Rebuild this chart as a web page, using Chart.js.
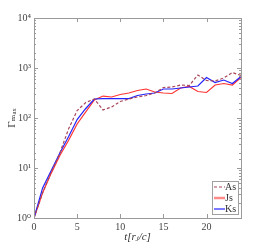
<!DOCTYPE html>
<html><head><meta charset="utf-8">
<script src="https://cdn.jsdelivr.net/npm/chart.js@4.4.1/dist/chart.umd.min.js"></script>
<style>html,body{margin:0;padding:0;background:#fff;}#wrap{width:266px;height:245px;}</style>
</head><body><div id="wrap"><canvas id="c" width="266" height="245"></canvas></div>
<script>
const tValues = [0,1,2,3,4,5,6,7,8,9,10,11,12,13,14,15,16,17,18,19,20,21,22,23,24];
const asValues = [1,3.2,8.3,20,60,141,204,240,145,166,214,240,263,282,316,407,417,457,447,724,562,550,631,813,708];
const jsValues = [1,3.2,7.9,17.8,35.5,76,132,229,275,263,295,316,355,380,331,316,309,398,427,339,324,457,490,457,646];
const ksValues = [1,4.0,8.9,20,42,93,155,240,245,245,245,245,282,302,316,380,380,398,417,437,646,513,575,490,676];
const seriesLabels = ['As','Js','Ks'];
const xTicks = [0,5,10,15,20];
const yMajorTicks = [1,10,100,1000,10000];
const yTickLabels = ['10\u2070','10\u00b9','10\u00b2','10\u00b3','10\u2074'];
const xTitle = 't[r\u2C7C/c]';
const yTitle = '\u0393\u2098\u2090\u2093';

const pts = v => tValues.map((t,i)=>({x:t,y:v[i]}));
const serif = '"Liberation Serif", "DejaVu Serif", serif';

const framePlugin = {
  id:'frame',
  afterDraw(chart){
    const ctx = chart.ctx, a = chart.chartArea;
    const xs = chart.scales.x, ys = chart.scales.y;
    ctx.save();
    ctx.strokeStyle = '#9a9a9a'; ctx.lineWidth = 1;
    ctx.strokeRect(Math.round(a.left)+0.5, Math.round(a.top)+0.5, Math.round(a.right-a.left), Math.round(a.bottom-a.top));
    ctx.beginPath();
    xs.ticks.forEach(tk=>{
      const px = Math.round(xs.getPixelForValue(tk.value))+0.5;
      ctx.moveTo(px,a.bottom); ctx.lineTo(px,a.bottom-4);
      ctx.moveTo(px,a.top); ctx.lineTo(px,a.top+4);
    });
    ys.ticks.forEach(tk=>{
      const lg = Math.log10(tk.value);
      const major = Math.abs(lg-Math.round(lg))<1e-9;
      const len = major?4:2;
      const py = Math.round(ys.getPixelForValue(tk.value))+0.5;
      ctx.moveTo(a.left,py); ctx.lineTo(a.left+len,py);
      ctx.moveTo(a.right,py); ctx.lineTo(a.right-len,py);
    });
    ctx.stroke();
    ctx.fillStyle = '#333';
    ctx.font = 'italic 11px '+serif;
    ctx.textAlign='center'; ctx.textBaseline='middle';
    ctx.fillText(xTitle,(a.left+a.right)/2,237);
    ctx.save();
    ctx.translate(12,(a.top+a.bottom)/2);
    ctx.rotate(-Math.PI/2);
    ctx.font = '11px '+serif;
    ctx.fillText(yTitle,0,0);
    ctx.restore();
    const lx=212, ly=181, lw=26, lh=33;
    ctx.fillStyle='#fff'; ctx.fillRect(lx,ly,lw,lh);
    ctx.strokeStyle='#a0a0a0'; ctx.lineWidth=1; ctx.strokeRect(lx+0.5,ly+0.5,lw,lh);
    chart.data.datasets.forEach((ds,i)=>{
      const y = ly+6+i*11;
      ctx.beginPath();
      ctx.strokeStyle = i===1?'#ff8a8a':ds.borderColor;
      ctx.lineWidth = i===1?2.5:1.2;
      ctx.setLineDash(ds.borderDash||[]);
      ctx.moveTo(lx+2,y); ctx.lineTo(lx+13,y); ctx.stroke();
      ctx.setLineDash([]);
      ctx.fillStyle='#333'; ctx.font='10px '+serif; ctx.textAlign='left';
      ctx.fillText(ds.label,lx+13,y);
    });
    ctx.restore();
  }
};

new Chart(document.getElementById('c'),{
  type:'line',
  data:{datasets:[
    {label:seriesLabels[0],data:pts(asValues),borderColor:'#a8475a',borderWidth:1.2,borderDash:[3,2],pointRadius:0,tension:0,order:0},
    {label:seriesLabels[1],data:pts(jsValues),borderColor:'#ff3434',borderWidth:1.2,pointRadius:0,tension:0,order:2},
    {label:seriesLabels[2],data:pts(ksValues),borderColor:'#2323ff',borderWidth:1.2,pointRadius:0,tension:0,order:1}
  ]},
  options:{
    responsive:false, animation:false, devicePixelRatio:1,
    layout:{padding:{left:0,right:25,top:18,bottom:0}},
    plugins:{legend:{display:false},tooltip:{enabled:false}},
    scales:{
      x:{type:'linear',min:0,max:24,
        afterBuildTicks:s=>{s.ticks = xTicks.map(v=>({value:v}));},
        afterFit:s=>{s.height=27;},
        grid:{display:false,drawTicks:false},border:{display:false},
        ticks:{padding:3,color:'#444',font:{family:serif,size:10},maxRotation:0,autoSkip:false}},
      y:{type:'logarithmic',min:1,max:10000,
        afterFit:s=>{s.width=34;},
        grid:{display:false,drawTicks:false},border:{display:false},
        ticks:{padding:3,color:'#444',font:{family:serif,size:10},autoSkip:false,
          callback:(v)=>{const i=yMajorTicks.indexOf(v);return i>=0?yTickLabels[i]:'';}}}
    }
  },
  plugins:[framePlugin]
});
</script></body></html>
